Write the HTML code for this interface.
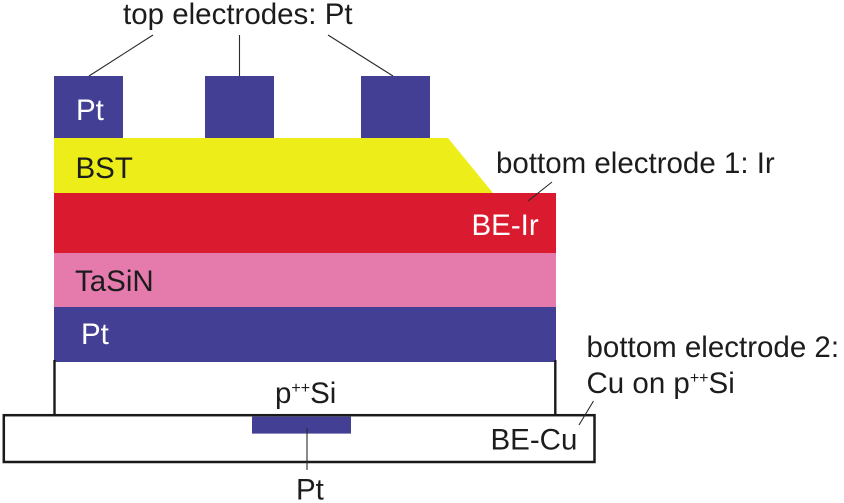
<!DOCTYPE html>
<html><head><meta charset="utf-8"><style>
html,body{margin:0;padding:0;background:#fff;}
svg{display:block;}
text{font-family:"Liberation Sans",Arial,sans-serif;font-size:29.5px;fill:#1c1c1c;}
.w{fill:#fff;}
</style></head><body>
<svg width="844" height="503" viewBox="0 0 844 503" xmlns="http://www.w3.org/2000/svg">
<!-- top electrodes -->
<rect x="54" y="76" width="69" height="62" fill="#433f95"/>
<rect x="205" y="76" width="69" height="62" fill="#433f95"/>
<rect x="361" y="76" width="69" height="62" fill="#433f95"/>
<!-- BST -->
<polygon points="54,138 448,138 493,193 54,193" fill="#eded1a"/>
<!-- BE-Ir -->
<rect x="54" y="193" width="502" height="60" fill="#da1a2e"/>
<!-- TaSiN -->
<rect x="54" y="253" width="502" height="54" fill="#e57aad"/>
<!-- Pt -->
<rect x="54" y="307" width="502" height="55" fill="#433f95"/>
<!-- p++Si box sides -->
<line x1="54.5" y1="360" x2="54.5" y2="416" stroke="#1a1a1a" stroke-width="2.4"/>
<line x1="555.3" y1="360" x2="555.3" y2="416" stroke="#1a1a1a" stroke-width="2.4"/>
<!-- bottom box -->
<rect x="3.8" y="415.2" width="590.7" height="46.8" fill="none" stroke="#1a1a1a" stroke-width="2.5"/>
<!-- small Pt -->
<rect x="252" y="416.6" width="99" height="17" fill="#433f95"/>
<!-- leaders -->
<g stroke="#2a2a2a" stroke-width="1.1" fill="none">
<line x1="89" y1="76" x2="153" y2="35"/>
<line x1="239.5" y1="35" x2="239.5" y2="76"/>
<line x1="328" y1="35" x2="393" y2="76"/>
<line x1="528" y1="201" x2="552" y2="182"/>
<line x1="579" y1="425" x2="593.5" y2="401"/>
<line x1="307" y1="428" x2="307" y2="470"/>
</g>
<!-- labels -->
<text x="123" y="24">top electrodes: Pt</text>
<text class="w" x="76" y="120">Pt</text>
<text x="75.5" y="178">BST</text>
<text x="496" y="173">bottom electrode 1: Ir</text>
<text class="w" x="471.5" y="235">BE-Ir</text>
<text x="75" y="291">TaSiN</text>
<text class="w" x="81" y="344">Pt</text>
<text x="275" y="403">p<tspan font-size="16" dy="-10">++</tspan><tspan dy="10">Si</tspan></text>
<text x="490.5" y="449.5">BE-Cu</text>
<text x="296" y="499.5">Pt</text>
<text x="586.5" y="357">bottom electrode 2:</text>
<text x="586.5" y="393">Cu on p<tspan font-size="16" dy="-10">++</tspan><tspan dy="10">Si</tspan></text>
</svg>
</body></html>
